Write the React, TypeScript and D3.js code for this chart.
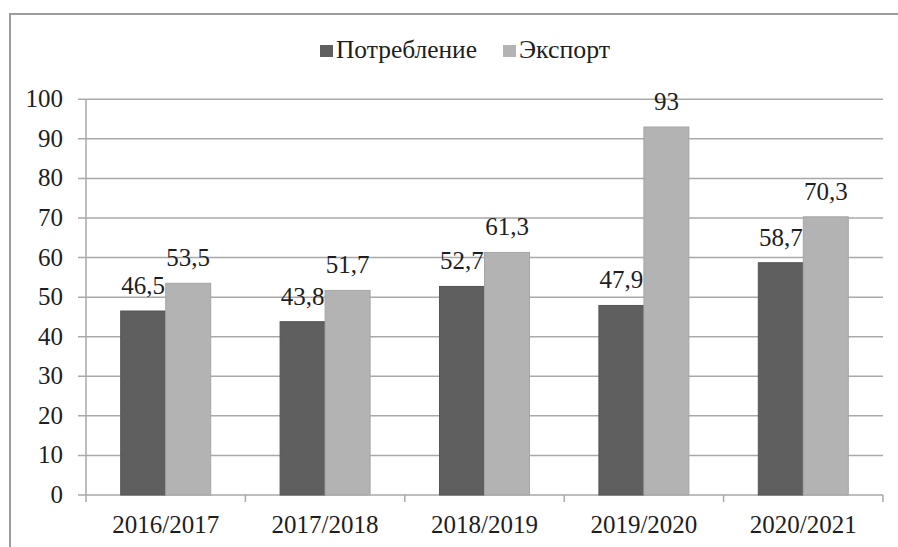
import React from "react";
import * as d3 from "d3";

const categories = ["2016/2017", "2017/2018", "2018/2019", "2019/2020", "2020/2021"];
const seriesNames = ["Потребление", "Экспорт"];
const consumption = [46.5, 43.8, 52.7, 47.9, 58.7];
const exportVals = [53.5, 51.7, 61.3, 93, 70.3];
const yTicks = [0, 10, 20, 30, 40, 50, 60, 70, 80, 90, 100];
const seriesColors = ["#5f5f5f", "#b3b3b3"];

const W = 898;
const H = 547;
const FONT = "'Liberation Serif', 'Times New Roman', serif";
const FS = 25;

export default function App() {
  const x = d3.scaleBand<string>().domain(categories).range([86, 883]).paddingInner(0).paddingOuter(0);
  const inner = d3
    .scaleBand<string>()
    .domain(seriesNames)
    .range([0, x.bandwidth()])
    .paddingInner(0)
    .paddingOuter(0.771);
  const y = d3.scaleLinear().domain([0, 100]).range([495, 99.3]);
  const series = [consumption, exportVals];
  const fmt = (v: number) => String(v).replace(".", ",");
  const gridColor = "#a9a9a9";
  const textColor = "#1e1e1e";
  const tStyle = { fontFamily: FONT, fontSize: FS };

  return (
    <svg
      width={W}
      height={H}
      style={{ position: "absolute", left: 0, top: 0, background: "#fff" }}
    >
      <rect x={10} y={14} width={W + 20} height={H + 20} fill="#fff" stroke="#9c9c9c" strokeWidth={2} />
      {/* legend */}
      <g>
        <rect x={320} y={45} width={13} height={12} fill={seriesColors[0]} />
        <text x={336} y={58} style={tStyle} fill={textColor} textLength={141} lengthAdjust="spacingAndGlyphs">
          {seriesNames[0]}
        </text>
        <rect x={503} y={45} width={13} height={12} fill={seriesColors[1]} />
        <text x={519} y={58} style={tStyle} fill={textColor} textLength={91} lengthAdjust="spacingAndGlyphs">
          {seriesNames[1]}
        </text>
      </g>
      {/* gridlines */}
      {yTicks.map((t) => (
        <g key={t}>
          <line x1={78} x2={883} y1={y(t)} y2={y(t)} stroke={gridColor} strokeWidth={1.5} />
          <text x={63} y={y(t) + 8} style={tStyle} textAnchor="end" fill={textColor}>
            {t}
          </text>
        </g>
      ))}
      {/* y axis */}
      <line x1={86} x2={86} y1={y(100)} y2={y(0)} stroke={gridColor} strokeWidth={1.5} />
      {/* x axis ticks */}
      {categories.map((c) => (
        <line key={c} x1={x(c)!} x2={x(c)!} y1={y(0)} y2={y(0) + 7} stroke={gridColor} strokeWidth={1.5} />
      ))}
      <line x1={883} x2={883} y1={y(0)} y2={y(0) + 7} stroke={gridColor} strokeWidth={1.5} />
      {/* bars */}
      {categories.map((c, i) => (
        <g key={c}>
          {seriesNames.map((s, j) => {
            const v = series[j][i];
            const bx = x(c)! + inner(s)!;
            const bw = inner.bandwidth();
            return (
              <g key={s}>
                <rect
                  x={bx}
                  y={y(v)}
                  width={bw}
                  height={y(0) - y(v)}
                  fill={seriesColors[j]}
                  stroke={j === 0 ? "#555" : "#a5a5a5"}
                  strokeWidth={1}
                />
                <text x={bx + bw / 2} y={y(v) - 17} style={tStyle} textAnchor="middle" fill={textColor}>
                  {fmt(v)}
                </text>
              </g>
            );
          })}
          <text x={x(c)! + x.bandwidth() / 2} y={533} style={tStyle} textAnchor="middle" fill={textColor}>
            {c}
          </text>
        </g>
      ))}
    </svg>
  );
}
